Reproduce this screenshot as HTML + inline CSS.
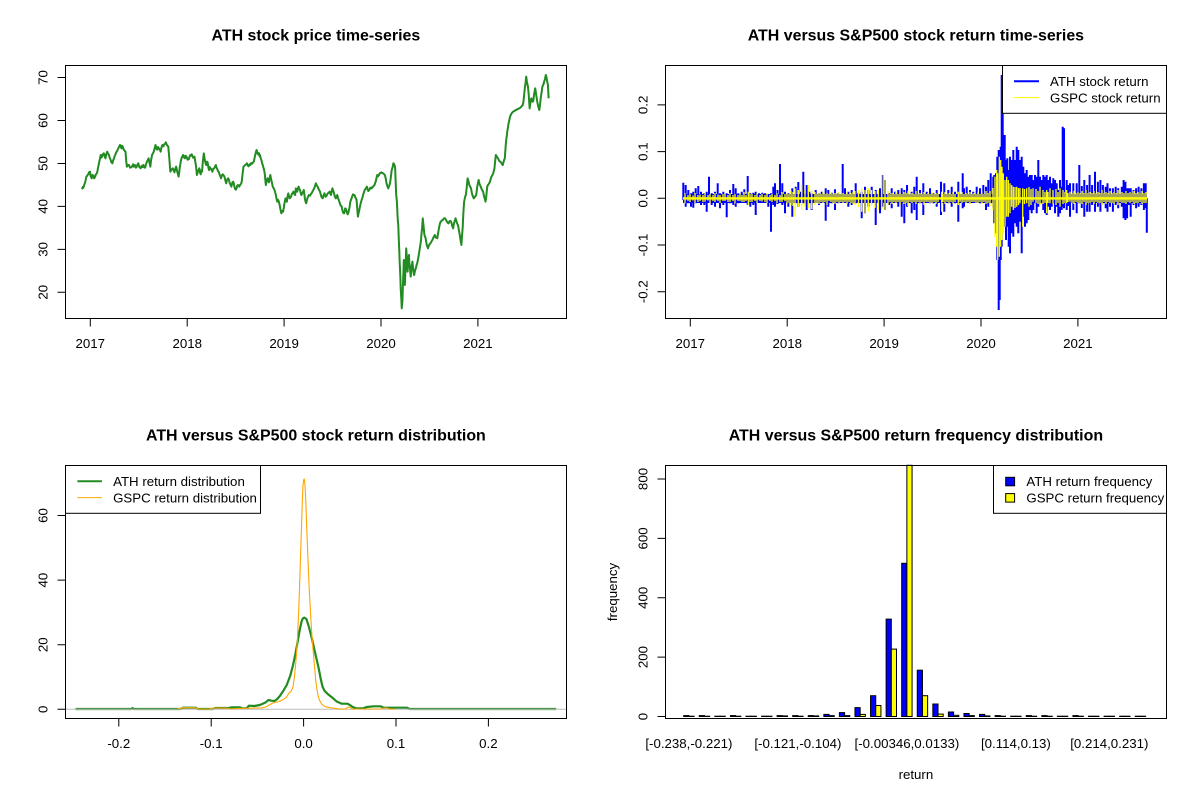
<!DOCTYPE html>
<html><head><meta charset="utf-8"><style>html,body{margin:0;padding:0;background:#fff}svg{display:block}text{font-family:"Liberation Sans",Arial,sans-serif;fill:#000}</style></head>
<body>
<svg width="1200" height="800" viewBox="0 0 1200 800" xmlns="http://www.w3.org/2000/svg">
<rect width="1200" height="800" fill="#fff"/>
<defs>
<clipPath id="c1"><rect x="65.3" y="65.3" width="501.2" height="253.4"/></clipPath>
<clipPath id="c2"><rect x="665.3" y="65.3" width="501.2" height="253.4"/></clipPath>
<clipPath id="c3"><rect x="65.3" y="465.3" width="501.2" height="253.4"/></clipPath>
</defs>

<!-- Titles -->
<g font-size="15.94" font-weight="bold" text-anchor="middle">
<text x="315.9" y="40.3">ATH stock price time-series</text>
<text x="915.9" y="40.3">ATH versus S&amp;P500 stock return time-series</text>
<text x="315.9" y="440.3">ATH versus S&amp;P500 stock return distribution</text>
<text x="915.9" y="440.3">ATH versus S&amp;P500 return frequency distribution</text>
</g>

<!-- ============ TOP LEFT: price ============ -->
<g clip-path="url(#c1)">
<polyline transform="translate(40,55) scale(0.34483,0.33333)" vector-effect="non-scaling-stroke" fill="none" stroke="#228B22" stroke-width="2" stroke-linejoin="round" points="122,403 124,396 126,398 128,390 130,385 132,378 133,372 134,366 135,365 138,360 140,358 142,352 145,350 147,364 150,370 152,360 155,362 157,370 160,365 162,358 165,355 167,346 168,340 170,330 172,320 174,310 176,300 178,308 180,305 182,298 185,295 188,305 190,310 192,298 195,290 197,296 200,300 202,308 205,315 207,322 210,325 212,316 214,312 216,305 218,300 221,292 225,285 228,278 232,270 234,274 236,280 238,272 240,275 242,282 244,285 246,288 248,290 250,318 252,335 255,330 258,330 261,338 265,337 268,332 270,328 272,335 275,330 278,338 280,336 283,328 285,325 288,336 292,340 294,334 296,332 298,336 300,330 303,338 305,338 308,326 310,320 313,314 315,310 318,326 320,335 322,316 325,300 328,294 330,290 333,278 335,270 338,282 340,284 342,276 345,280 348,286 350,290 352,278 355,270 358,274 360,268 363,266 365,262 367,268 368,270 370,272 372,275 374,298 375,310 377,338 378,350 381,344 385,340 388,348 390,352 392,342 395,335 398,350 402,365 404,350 405,340 407,328 408,320 411,308 415,300 418,308 420,310 422,302 425,305 428,314 432,312 434,304 436,300 438,302 440,298 444,308 448,305 450,318 452,330 454,348 455,360 458,350 462,340 464,352 466,358 468,346 470,350 472,322 475,295 477,308 478,315 480,324 482,330 484,320 486,322 488,336 490,345 492,336 495,340 498,346 500,350 502,342 505,340 508,334 510,330 512,338 514,342 516,348 518,350 520,356 522,362 524,366 525,370 528,360 530,358 533,362 535,365 538,378 540,385 542,376 544,372 546,370 548,375 550,384 552,388 554,392 555,395 557,386 558,382 560,380 562,385 564,396 566,402 568,404 570,400 572,392 574,390 576,392 578,395 580,390 582,388 584,384 585,380 587,362 588,352 589,344 590,335 593,332 595,330 598,328 600,325 603,332 605,334 608,328 610,330 613,324 615,326 618,322 620,320 622,310 624,300 626,292 628,285 630,292 632,298 634,294 635,295 637,304 638,300 640,310 642,315 644,324 646,330 648,338 650,345 652,358 653,370 654,382 655,390 657,380 658,378 659,372 660,370 662,378 664,382 666,368 668,360 670,372 672,380 674,390 675,395 678,400 680,405 682,412 684,420 686,432 688,440 690,434 692,438 694,446 695,450 697,462 698,466 699,472 700,475 702,468 705,470 707,458 708,450 710,440 712,430 714,436 716,440 718,424 720,415 722,424 724,430 726,428 728,425 730,418 732,415 734,412 735,410 738,418 740,420 741,408 742,400 744,406 746,410 748,400 750,395 752,402 754,405 756,414 758,420 760,416 762,412 764,408 765,405 767,420 768,430 770,440 772,445 774,436 776,428 778,424 780,420 783,422 785,418 788,414 790,410 793,404 795,400 798,392 800,385 803,392 805,395 807,400 808,402 810,406 812,410 814,418 816,425 818,428 820,430 822,422 825,415 827,422 828,425 830,424 832,420 834,416 836,414 838,412 840,410 842,416 844,420 846,408 848,400 850,406 852,412 854,420 855,425 857,428 858,430 860,424 862,420 864,428 865,432 867,436 868,440 870,446 872,452 874,453 875,455 877,466 878,470 880,474 882,475 884,466 885,460 887,462 888,465 890,472 892,478 894,474 895,470 897,460 898,455 899,446 900,440 902,434 903,432 904,428 905,425 907,420 908,418 910,420 912,420 914,426 915,428 917,432 918,435 919,448 920,460 921,475 922,485 924,474 926,465 928,454 930,445 933,434 935,428 938,416 940,410 942,404 944,402 946,398 948,395 950,402 952,408 954,406 955,405 957,400 958,398 960,400 962,400 964,396 966,395 968,392 970,390 972,384 974,378 976,368 978,360 980,364 982,362 984,358 985,355 988,354 990,352 993,354 995,355 998,358 1000,360 1002,368 1003,372 1004,380 1005,385 1007,392 1008,395 1009,398 1010,400 1012,394 1013,392 1014,388 1015,385 1017,370 1018,362 1019,352 1020,345 1022,338 1023,335 1024,328 1025,325 1027,328 1028,330 1029,334 1030,340 1031,370 1033,420 1034,430 1035,440 1036,462 1037,485 1038,500 1039,510 1040,540 1041,566 1042,590 1043,620 1044,642 1045,665 1046,700 1047,718 1048,735 1049,760 1050,748 1051,740 1052,705 1053,676 1054,650 1055,615 1056,640 1057,660 1058,690 1059,666 1060,640 1061,610 1062,580 1063,596 1064,610 1065,632 1066,650 1067,634 1068,620 1069,608 1070,600 1071,622 1073,640 1074,654 1075,665 1076,652 1077,640 1079,628 1080,620 1082,640 1083,650 1084,656 1085,660 1087,650 1088,645 1089,642 1090,640 1092,630 1093,628 1094,624 1095,620 1097,608 1098,602 1099,596 1100,590 1102,576 1103,570 1104,562 1105,555 1106,540 1108,520 1109,505 1110,490 1112,510 1113,520 1114,532 1115,540 1117,546 1118,548 1119,554 1120,560 1121,566 1122,572 1124,576 1125,580 1127,574 1128,570 1130,568 1132,565 1134,562 1135,560 1137,556 1138,555 1140,550 1142,545 1144,542 1145,540 1147,546 1148,548 1150,548 1152,550 1154,538 1156,525 1158,514 1160,505 1162,500 1164,498 1166,496 1168,495 1170,492 1172,490 1174,490 1175,490 1178,496 1180,500 1183,504 1185,505 1187,500 1188,498 1190,498 1192,500 1194,506 1195,512 1197,516 1198,520 1200,508 1202,500 1204,494 1205,490 1207,496 1208,500 1210,506 1212,510 1214,520 1215,528 1217,538 1218,545 1219,552 1220,558 1221,564 1222,570 1223,556 1224,540 1225,528 1226,515 1227,490 1228,470 1229,454 1230,440 1232,430 1233,425 1234,422 1235,420 1237,402 1238,392 1239,380 1240,370 1242,376 1243,380 1244,386 1245,390 1247,394 1248,396 1249,398 1250,400 1252,412 1254,420 1256,426 1258,430 1260,428 1262,424 1264,422 1265,420 1267,404 1268,395 1270,384 1272,375 1274,384 1275,388 1277,392 1278,395 1280,400 1282,405 1284,408 1285,410 1287,420 1288,425 1290,432 1292,440 1294,426 1295,415 1296,404 1297,395 1299,390 1301,388 1303,384 1305,380 1307,372 1308,368 1310,364 1312,360 1314,356 1315,352 1317,344 1318,340 1319,328 1320,318 1321,308 1322,300 1324,304 1325,305 1327,308 1328,310 1330,314 1332,318 1334,320 1335,320 1337,322 1338,324 1340,328 1342,330 1344,322 1345,318 1347,312 1348,310 1349,294 1350,280 1351,266 1352,255 1354,240 1355,230 1357,218 1358,210 1360,200 1361,195 1363,186 1365,180 1367,176 1368,175 1370,172 1372,170 1374,169 1376,168 1378,166 1380,165 1383,164 1385,162 1388,161 1390,160 1393,158 1395,156 1398,152 1400,150 1402,140 1403,130 1404,120 1405,110 1406,98 1408,85 1409,74 1410,65 1411,72 1412,80 1414,90 1415,95 1417,115 1418,130 1419,146 1420,160 1421,152 1422,145 1424,134 1425,130 1427,136 1428,138 1429,140 1430,140 1432,126 1433,118 1435,106 1436,100 1438,112 1439,120 1441,132 1442,140 1444,150 1445,155 1447,162 1448,165 1449,158 1450,150 1451,140 1452,130 1454,116 1455,110 1456,100 1457,95 1459,90 1460,88 1461,84 1462,80 1464,74 1465,70 1466,64 1467,60 1468,64 1469,68 1470,75 1471,80 1472,85 1473,90 1474,110 1475,130"/>
</g>
<rect x="65.5" y="65.5" width="501" height="253" fill="none" stroke="#000" stroke-width="1"/>
<g stroke="#000" stroke-width="1">
<path d="M90.3 318.5V326.5M187.2 318.5V326.5M284.1 318.5V326.5M381 318.5V326.5M477.9 318.5V326.5"/>
<path d="M65.5 292.3H57.5M65.5 249.35H57.5M65.5 206.4H57.5M65.5 163.45H57.5M65.5 120.5H57.5M65.5 77.55H57.5"/>
</g>
<g font-size="13.28" text-anchor="middle">
<text x="90.3" y="348">2017</text><text x="187.2" y="348">2018</text><text x="284.1" y="348">2019</text><text x="381" y="348">2020</text><text x="477.9" y="348">2021</text>
<text transform="translate(47.7,292.3) rotate(-90)">20</text>
<text transform="translate(47.7,249.35) rotate(-90)">30</text>
<text transform="translate(47.7,206.4) rotate(-90)">40</text>
<text transform="translate(47.7,163.45) rotate(-90)">50</text>
<text transform="translate(47.7,120.5) rotate(-90)">60</text>
<text transform="translate(47.7,77.55) rotate(-90)">70</text>
</g>

<!-- ============ TOP RIGHT: returns ============ -->
<g clip-path="url(#c2)">
<rect x="683" y="194" width="464" height="9" fill="#0000FF"/>
<path fill="none" stroke="#0000FF" stroke-width="2" d="M683.3 182.7V200 M685.7 185V206.7 M688.3 190V203.3 M691 193.3V206.7 M693.3 191.7V207.7 M695.7 188.3V203.3 M698.3 186V201.7 M701 191.7V205 M704.3 193.3V205 M706.7 191.7V211.7 M709 176.7V200 M711.7 193.3V205 M715 191.7V206.7 M717.7 183.3V201.7 M720 193.3V208.3 M723.3 191.7V205 M726.7 193.3V217.3 M730 190V203.3 M733.3 184V205 M735.7 188.3V206.7 M738.3 193.3V203.3 M741.7 191.7V201.7 M744.3 189.3V200 M747.7 176V205 M750.3 193.3V206.7 M753.3 192.7V205 M755.7 191.7V215 M759 193.3V201.7 M762.3 192.7V200 M765 193.3V201.7 M768.3 195V206.7 M771 193.3V231.7 M773.3 186.7V205 M775 183.3V206.7 M777.5 190V204 M780 164V196.7 M782.3 183.3V205 M785 191.7V213.3 M788.3 193.3V206.7 M792.3 188.3V216.7 M795.7 186.7V203.3 M798.3 182V206.7 M801 191.7V200 M803.3 171.7V203.3 M806.7 185V210 M809.3 191.7V203.3 M811.7 193.3V210 M815.7 190V201.7 M819 193.3V205 M821.7 191.7V201.7 M825.7 188.3V220.7 M828.3 190V206.7 M831.7 192.7V203.3 M835 189.3V210 M838.3 193.3V203.3 M842.7 164V198.3 M845 188.3V201.7 M848.3 191.7V206.7 M851.7 190V205 M855.7 183.3V203.3 M858.3 192.7V200 M861.7 191.7V218.3 M865 186.7V213.3 M868.3 190V206.7 M871.7 186.7V203.3 M875.7 190V225 M880 188.3V213.3 M882.3 175V206.7 M885 180V210 M889 193.3V205 M891.7 188.3V208.3 M895 191.7V200 M898.3 190V206.7 M901.7 188.3V216.7 M904.3 190V223.3 M907 185V206.7 M911.7 191.7V213.3 M914.3 186.7V210 M916.7 176.7V220 M920 190V203.3 M923.3 183.3V215 M926.7 191.7V201.7 M930 188.3V203.3 M933.3 193.3V203.3 M936.7 190V206.7 M941 181.7V215 M944.3 183.3V211.7 M948.3 190V203.3 M951.7 186.7V206.7 M955 191.7V203.3 M958.3 181.7V221.7 M962.7 173.3V208.3 M964 188.3V206.7 M966.7 186.7V201.7 M970 190V203.3 M973.3 191.7V200 M976.7 186.7V201.7 M980 188.3V203.3 M983.3 185V200 M986 186.7V210 M988.3 180V206.7 M990.7 173.3V203.3 M993.3 176.7V208.3 M994.3 175V223.3 M996 173.3V233.3 M997.3 156.7V260 M998.7 150V310 M999.7 153.3V300 M1000.7 146.7V260 M1001.7 75V246.7 M1002.7 103.3V233.3 M1003.7 136.7V226.7 M1004.7 135V216.7 M1006 160V240 M1007.3 158.3V226.7 M1008.7 170V246.7 M1010 156.7V253.3 M1011.7 160V233.3 M1013.3 150V236.7 M1015 160V223.3 M1016.7 146.7V226.7 M1018.3 150V233.3 M1020 160V221.7 M1021.7 156.7V253.3 M1023.3 166.7V216.7 M1025 173.3V226.7 M1026.7 170V223.3 M1028.3 176.7V220 M1030 175V210 M1031.7 175V213.3 M1033.3 180V210 M1035 175V203.3 M1036.7 176.7V213.3 M1038.3 160V206.7 M1040 176.7V203.3 M1041.7 180V203.3 M1043.3 175V210 M1045 176.7V213.3 M1046.7 175V215 M1048.3 180V206.7 M1050 176.7V210 M1051.7 183.3V206.7 M1053.3 178.3V203.3 M1055 180V213.3 M1056.7 183.3V206.7 M1058.3 190V216.7 M1060 180V213.3 M1061.7 186.7V210 M1062.7 126.7V206.7 M1064 128.3V208.3 M1066.7 180V210 M1068.5 185V206 M1070 183.3V216.7 M1073.3 183.3V210 M1076.7 183.3V213.3 M1079.3 165V203.3 M1081.8 186V208 M1084.3 180V216.7 M1087.1 185V211.7 M1089.6 175V211.7 M1092.1 185V205 M1095 171.7V211.7 M1097.9 181.7V206.7 M1100.4 180V211.7 M1102.9 185V203.3 M1105.7 186.7V208.3 M1107.5 183.3V211.7 M1110 188.3V206.7 M1112.9 188.3V211.7 M1115.7 186.7V205 M1118.2 188.3V208.3 M1121.8 186.7V206.7 M1123.6 180V218.3 M1125.4 181.7V220 M1127.1 188.3V218.3 M1128.9 188.3V205 M1130.7 188.3V216.7 M1133.6 190V205 M1136.1 188.3V208.3 M1138.6 186.7V206.7 M1141.4 188.3V205 M1143.9 183.3V210 M1145.7 183.3V208.3 M1146.8 198.3V232.7"/>
<rect x="683" y="197.2" width="464" height="2.4" fill="#FFFF00"/>
<path fill="none" stroke="#FFFF00" stroke-width="1.3" d="M685 193.3V203.3 M688 195V201 M690 194V202 M693 195.5V200.5 M695 193V203 M698 195V202 M700 194.5V201 M703 195V202 M705 193.3V201.7 M708 195V200.5 M710 194V203 M713 195V201 M715 193V202 M718 194.5V201 M720 195V203 M723 194V201 M725 194V201 M728 195V202 M730 193V202 M733 195V201 M735 194V203.5 M738 195V201 M740 193.5V201 M742 195V202 M744 192V202 M746 195V201 M748.3 191.7V205 M750 194V202 M752 194V202 M755 195V201 M757 193V203 M760 195V201 M762 194V201.5 M765 195V202 M767 193V203 M770 195V201 M772 194V202 M775 195V201 M777 193.5V203 M780 195V202 M782 192V202 M785 194V201 M787 193V204 M789 194V203 M791 191V205 M793 192V206 M795 188.3V216.7 M798.3 190V206.7 M801.7 185V210 M805 190V207 M808.3 185V208.3 M811.7 190V209.3 M815 192V205 M817 194V203 M819 193V204 M821 194V202 M823 192V203 M825 194V202 M827 193V205 M829 194V201 M831 192V202 M833 194V203 M835 193V204 M837 194V202 M839 192V203 M841 194V202 M843 193V203 M845 194V202 M847 192V204 M849 194V202 M851 193V203 M853 192V204 M855 191V205 M858.5 190V207 M861.7 188.3V211.7 M865 190V213.3 M868.3 188.3V211.7 M871.5 190V206 M875 191V208 M878.3 190V210 M881.7 175V210 M885 180V210 M888 191V205 M890 194V202 M892 193V204 M894 194V202 M896 192V203 M898 194V202 M900 193V205 M902 194V202 M904 192V204 M906 193V203 M908 191V206 M910 194V202 M912 193V203 M914 194V202 M916 191V204 M918 194V202 M920 193V203 M922 194V202 M924 192V205 M926 194V202 M928 193V202 M930 194V203 M932 192V203 M934 194V202 M936 193V204 M938 194V202 M941.7 191.7V211.7 M943 194V202 M945 192V204 M947 194V202 M949 193V203 M951 194V202 M953 192V204 M955 194V202 M958.3 191.7V205 M960 194V202 M962 192V203 M964 194V202 M966 193V203 M968 194V202 M970 192V204 M972 194V202 M974 193V202 M976 194V203 M978 192V203 M980 194V202 M982 193V204 M984 194V202 M986 191V204 M988 193V203 M990 191V206 M993 188V210 M995 176.7V236.7 M996.7 170V246.7 M997.7 173.3V260 M999.3 156.7V256.7 M1000.7 160V246.7 M1002 166.7V240 M1003.3 173.3V233.3 M1005 180V226.7 M1006.7 176.7V216.7 M1008.3 180V216.7 M1010 183.3V213.3 M1011.7 185V206.7 M1013.3 186.7V210 M1015 187V208 M1016.7 186.7V206.7 M1018.5 188V205 M1020 188.3V203.3 M1022.7 188.3V226.7 M1024.5 189V204 M1026.7 188.3V203.3 M1029 187V206.7 M1031 189V205 M1033 188.3V201.7 M1036 189V203 M1038 191V204 M1040 186.7V205 M1043 190V204 M1045 192V203 M1046.7 190V213.3 M1048 192V203 M1050 188.3V203.3 M1053 190V204 M1056 189V205 M1058 192V203 M1060 188.3V206.7 M1063 190V204 M1065 192V203 M1066.7 190V203.3 M1068 193V202 M1070 191.7V201.7 M1072 193V203 M1074 191V204 M1076 193V202 M1078 192V203 M1080 193V203 M1082 191V204 M1084 193V202 M1086 190V205 M1088 193V203 M1090 192V203 M1092 193V202 M1094 191V204 M1096 193V202 M1098 192V203 M1100 193V203 M1102 190V205 M1104 193V202 M1106 192V204 M1108 193V202 M1110 191V203 M1112 193V203 M1114 192V204 M1116 193V202 M1118 190V205 M1120 193V202 M1122 192V203 M1124 193V203 M1126 191V204 M1128 193V202 M1130 192V203 M1132 193V202 M1134 191V204 M1136 193V203 M1138 192V203 M1140 193V202 M1142 191V204 M1144 193V203 M1146 192V203"/>
</g>
<!-- legend -->
<rect x="1002.5" y="65.5" width="164" height="47.8" fill="#fff" stroke="#000" stroke-width="1"/>
<line x1="1014" y1="81.2" x2="1039" y2="81.2" stroke="#0000FF" stroke-width="2"/>
<line x1="1014" y1="97.6" x2="1039" y2="97.6" stroke="#FFFF00" stroke-width="1"/>
<g font-size="13.28"><text x="1050" y="86">ATH stock return</text><text x="1050" y="102.4">GSPC stock return</text></g>
<rect x="665.5" y="65.5" width="501" height="253" fill="none" stroke="#000" stroke-width="1"/>
<g stroke="#000" stroke-width="1">
<path d="M690.3 318.5V326.5M787.2 318.5V326.5M884.1 318.5V326.5M981 318.5V326.5M1077.9 318.5V326.5"/>
<path d="M665.5 291.7H657.5M665.5 245H657.5M665.5 198.3H657.5M665.5 151.6H657.5M665.5 104.9H657.5"/>
</g>
<g font-size="13.28" text-anchor="middle">
<text x="690.3" y="348">2017</text><text x="787.2" y="348">2018</text><text x="884.1" y="348">2019</text><text x="981" y="348">2020</text><text x="1077.9" y="348">2021</text>
<text transform="translate(647.7,291.7) rotate(-90)">-0.2</text>
<text transform="translate(647.7,245) rotate(-90)">-0.1</text>
<text transform="translate(647.7,198.3) rotate(-90)">0.0</text>
<text transform="translate(647.7,151.6) rotate(-90)">0.1</text>
<text transform="translate(647.7,104.9) rotate(-90)">0.2</text>
</g>

<!-- ============ BOTTOM LEFT: density ============ -->
<g clip-path="url(#c3)">
<polyline transform="translate(30,455) scale(0.35075,0.33333)" vector-effect="non-scaling-stroke" fill="none" stroke="#228B22" stroke-width="2.2" stroke-linejoin="round" points="130,762 290,762 292,759 296,762 430,762 436,758 472,758 478,762 522,762 528,759 568,759 575,757 598,757 605,760 618,760 624,752 640,753 655,750 662,747 672,742 680,735 688,737 697,738 705,732 713,722 722,708 732,690 742,662 750,630 757,595 763,560 769,525 774,500 778,490 782,488 788,492 795,515 803,548 810,580 817,612 823,640 829,672 834,695 840,708 850,718 862,728 875,740 888,746 905,746 912,750 920,756 930,760 950,760 960,756 980,754 1000,754 1008,758 1020,758 1075,758 1082,762 1500,762"/>
<line x1="65.3" y1="709.2" x2="566.5" y2="709.2" stroke="#BEBEBE" stroke-width="1"/>
<polyline transform="translate(30,455) scale(0.35075,0.33333)" vector-effect="non-scaling-stroke" fill="none" stroke="#FFA500" stroke-width="1.1" stroke-linejoin="round" points="420,762 435,758 470,758 480,762 510,762 520,759 560,759 575,762 600,760 620,760 640,759 660,759 672,756 682,750 692,744 705,741 718,736 730,728 738,715 745,708 750,695 754,665 758,620 762,560 766,470 770,350 773,250 776,150 778,95 780,75 782,72 784,90 786,130 789,220 792,300 796,400 800,480 805,560 810,620 815,680 820,715 825,735 832,748 842,755 855,758 870,760 880,762 900,762 905,757 912,757 920,762 1000,762 1008,759 1018,759 1025,762 1040,762"/>
</g>
<!-- legend -->
<rect x="65.5" y="465.5" width="195" height="47.8" fill="#fff" stroke="#000" stroke-width="1"/>
<line x1="77.4" y1="481.2" x2="101.9" y2="481.2" stroke="#228B22" stroke-width="2"/>
<line x1="77.4" y1="497.6" x2="101.9" y2="497.6" stroke="#FFA500" stroke-width="1"/>
<g font-size="13.28"><text x="113.1" y="486">ATH return distribution</text><text x="113.1" y="502.4">GSPC return distribution</text></g>
<rect x="65.5" y="465.5" width="501" height="253" fill="none" stroke="#000" stroke-width="1"/>
<g stroke="#000" stroke-width="1">
<path d="M118.8 718.5V726.5M211.2 718.5V726.5M303.6 718.5V726.5M396 718.5V726.5M488.4 718.5V726.5"/>
<path d="M65.5 709.3H57.5M65.5 644.7H57.5M65.5 580.1H57.5M65.5 515.5H57.5"/>
</g>
<g font-size="13.28" text-anchor="middle">
<text x="118.8" y="748">-0.2</text><text x="211.2" y="748">-0.1</text><text x="303.6" y="748">0.0</text><text x="396" y="748">0.1</text><text x="488.4" y="748">0.2</text>
<text transform="translate(47.7,709.3) rotate(-90)">0</text>
<text transform="translate(47.7,644.7) rotate(-90)">20</text>
<text transform="translate(47.7,580.1) rotate(-90)">40</text>
<text transform="translate(47.7,515.5) rotate(-90)">60</text>
</g>

<!-- ============ BOTTOM RIGHT: histogram ============ -->
<g stroke="#000" stroke-width="1">
<g fill="#0000FF">
<rect x="683.71" y="715.6" width="5.19" height="0.9"/>
<rect x="699.28" y="715.6" width="5.19" height="0.9"/>
<rect x="714.85" y="716.2" width="5.19" height="0.3"/>
<rect x="730.42" y="715.6" width="5.19" height="0.9"/>
<rect x="745.99" y="716.2" width="5.19" height="0.3"/>
<rect x="761.56" y="716.2" width="5.19" height="0.3"/>
<rect x="777.13" y="715.6" width="5.19" height="0.9"/>
<rect x="792.70" y="715.6" width="5.19" height="0.9"/>
<rect x="808.27" y="715.6" width="5.19" height="0.9"/>
<rect x="823.84" y="714.4" width="5.19" height="2.1"/>
<rect x="839.41" y="712.6" width="5.19" height="3.9"/>
<rect x="854.98" y="707.6" width="5.19" height="8.9"/>
<rect x="870.55" y="695.7" width="5.19" height="20.8"/>
<rect x="886.12" y="619.1" width="5.19" height="97.4"/>
<rect x="901.69" y="563.3" width="5.19" height="153.2"/>
<rect x="917.26" y="670.2" width="5.19" height="46.3"/>
<rect x="932.83" y="704" width="5.19" height="12.5"/>
<rect x="948.40" y="712" width="5.19" height="4.5"/>
<rect x="963.97" y="713.5" width="5.19" height="3"/>
<rect x="979.54" y="714.4" width="5.19" height="2.1"/>
<rect x="995.11" y="715.6" width="5.19" height="0.9"/>
<rect x="1010.68" y="716.2" width="5.19" height="0.3"/>
<rect x="1026.25" y="715.6" width="5.19" height="0.9"/>
<rect x="1041.82" y="715.6" width="5.19" height="0.9"/>
<rect x="1057.39" y="716.2" width="5.19" height="0.3"/>
<rect x="1072.96" y="715.6" width="5.19" height="0.9"/>
<rect x="1088.53" y="716.2" width="5.19" height="0.3"/>
<rect x="1104.10" y="716.2" width="5.19" height="0.3"/>
<rect x="1119.67" y="716.2" width="5.19" height="0.3"/>
<rect x="1135.24" y="716.2" width="5.19" height="0.3"/>
</g>
<g fill="#FFFF00">
<rect x="688.90" y="716.2" width="5.19" height="0.3"/>
<rect x="704.47" y="716.2" width="5.19" height="0.3"/>
<rect x="720.04" y="716.2" width="5.19" height="0.3"/>
<rect x="735.61" y="716.2" width="5.19" height="0.3"/>
<rect x="751.18" y="716.2" width="5.19" height="0.3"/>
<rect x="766.75" y="716.2" width="5.19" height="0.3"/>
<rect x="782.32" y="715.9" width="5.19" height="0.6"/>
<rect x="797.89" y="716.2" width="5.19" height="0.3"/>
<rect x="813.46" y="715.9" width="5.19" height="0.6"/>
<rect x="829.03" y="715.6" width="5.19" height="0.9"/>
<rect x="844.60" y="715.6" width="5.19" height="0.9"/>
<rect x="860.17" y="714.4" width="5.19" height="2.1"/>
<rect x="875.74" y="705.5" width="5.19" height="11"/>
<rect x="891.31" y="649.1" width="5.19" height="67.4"/>
<rect x="906.88" y="465.3" width="5.19" height="251.2"/>
<rect x="922.45" y="695.7" width="5.19" height="20.8"/>
<rect x="938.02" y="714.1" width="5.19" height="2.4"/>
<rect x="953.59" y="715.3" width="5.19" height="1.2"/>
<rect x="969.16" y="715.6" width="5.19" height="0.9"/>
<rect x="984.73" y="715.9" width="5.19" height="0.6"/>
<rect x="1000.30" y="716.2" width="5.19" height="0.3"/>
<rect x="1015.87" y="716.2" width="5.19" height="0.3"/>
<rect x="1031.44" y="716.2" width="5.19" height="0.3"/>
<rect x="1047.01" y="716.2" width="5.19" height="0.3"/>
<rect x="1062.58" y="716.2" width="5.19" height="0.3"/>
<rect x="1078.15" y="716.2" width="5.19" height="0.3"/>
<rect x="1093.72" y="716.2" width="5.19" height="0.3"/>
<rect x="1109.29" y="716.2" width="5.19" height="0.3"/>
<rect x="1124.86" y="716.2" width="5.19" height="0.3"/>
<rect x="1140.43" y="716.2" width="5.19" height="0.3"/>
</g>
</g>
<!-- legend -->
<rect x="993.5" y="465.5" width="173" height="47.8" fill="#fff" stroke="#000" stroke-width="1"/>
<rect x="1005.7" y="477.3" width="8.9" height="8.5" fill="#0000FF" stroke="#000" stroke-width="1"/>
<rect x="1005.7" y="493.6" width="8.9" height="8.5" fill="#FFFF00" stroke="#000" stroke-width="1"/>
<g font-size="13.28"><text x="1026.4" y="486">ATH return frequency</text><text x="1026.4" y="502.4">GSPC return frequency</text></g>
<rect x="665.5" y="465.5" width="501" height="253" fill="none" stroke="#000" stroke-width="1"/>
<g stroke="#000" stroke-width="1">
<path d="M665.5 716.5H657.5M665.5 657.1H657.5M665.5 597.8H657.5M665.5 538.4H657.5M665.5 479H657.5"/>
</g>
<g font-size="13.28" text-anchor="middle">
<text transform="translate(647.7,716.5) rotate(-90)">0</text>
<text transform="translate(647.7,657.1) rotate(-90)">200</text>
<text transform="translate(647.7,597.8) rotate(-90)">400</text>
<text transform="translate(647.7,538.4) rotate(-90)">600</text>
<text transform="translate(647.7,479) rotate(-90)">800</text>
<text x="688.9" y="748">[-0.238,-0.221)</text>
<text x="797.9" y="748">[-0.121,-0.104)</text>
<text x="906.9" y="748">[-0.00346,0.0133)</text>
<text x="1015.9" y="748">[0.114,0.13)</text>
<text x="1109.3" y="748">[0.214,0.231)</text>
<text x="915.9" y="779">return</text>
<text transform="translate(617,592) rotate(-90)">frequency</text>
</g>
</svg>
</body></html>
